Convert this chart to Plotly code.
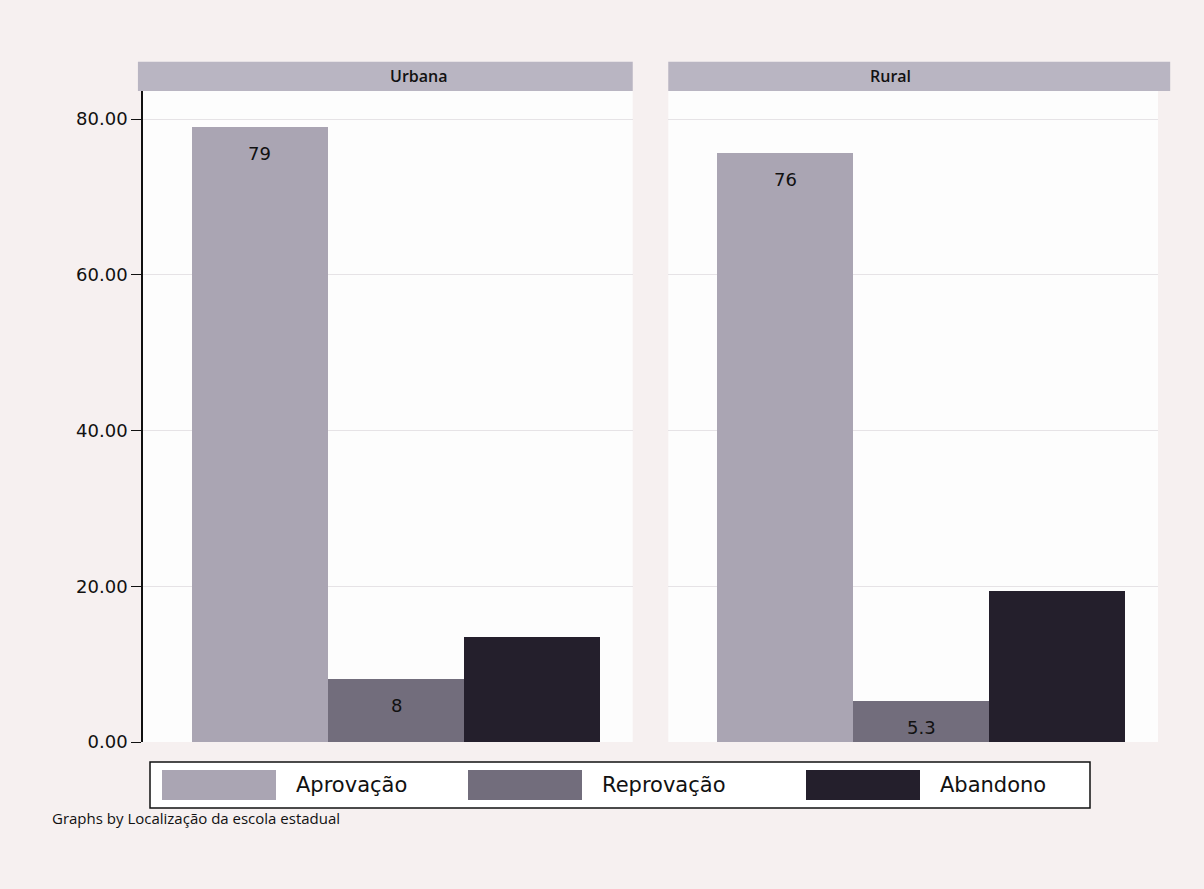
import plotly.graph_objects as go
from plotly.subplots import make_subplots

panels = ["Urbana", "Rural"]
series = ["Aprovação", "Reprovação", "Abandono"]
values = {
    "Urbana": [79.0, 8.1, 13.5],
    "Rural": [75.7, 5.3, 19.4],
}
labels = {
    "Urbana": ["79", "8", ""],
    "Rural": ["76", "5.3", ""],
}
colors = ["#aaa5b3", "#726d7c", "#241f2c"]
yticks = [0, 20, 40, 60, 80]

fig = make_subplots(rows=1, cols=2, shared_yaxes=True, horizontal_spacing=0.035)

for ci, p in enumerate(panels, start=1):
    for si, s in enumerate(series):
        fig.add_trace(go.Bar(x=[s], y=[values[p][si]], name=s,
                             marker=dict(color=colors[si], line=dict(width=0)),
                             showlegend=False, hoverinfo="y"), row=1, col=ci)
        if labels[p][si]:
            fig.add_annotation(x=s, y=values[p][si], text=labels[p][si], showarrow=False,
                               yshift=-27, font=dict(size=18, color="#111", family="DejaVu Sans"),
                               xref=f"x{'' if ci == 1 else ci}", yref=f"y{'' if ci == 1 else ci}")

fig.update_layout(barmode="overlay", bargap=0.0)
for ci in (1, 2):
    fig.update_xaxes(range=[-0.86, 2.74], showticklabels=False, showgrid=False,
                     zeroline=False, showline=False, ticks="", row=1, col=ci)
fig.update_yaxes(range=[0, 83.6], tickvals=yticks, tickformat=".2f",
                 gridcolor="#e6e3e6", gridwidth=1, zeroline=False, row=1, col=1,
                 showline=True, linecolor="#111", linewidth=1.5, ticks="outside",
                 ticklen=10, tickcolor="#111",
                 tickfont=dict(size=18, family="DejaVu Sans", color="#111"))
fig.update_yaxes(range=[0, 83.6], tickvals=yticks, gridcolor="#e6e3e6",
                 zeroline=False, showline=False, row=1, col=2)

# strips
d1 = fig.layout.xaxis.domain
d2 = fig.layout.xaxis2.domain
for (a, b), p in zip([d1, d2], panels):
    fig.add_shape(type="rect", xref="paper", yref="paper", x0=a - (0.005 if p == "Urbana" else 0),
                  x1=b + (0.0 if p == "Urbana" else 0.012),
                  y0=1.0, y1=1.045, fillcolor="#b9b5c2", line=dict(width=0), layer="below")
    fig.add_annotation(xref="paper", yref="paper", x=(a + b) / 2, y=1.0225, yanchor="middle",
                       text=p, showarrow=False,
                       font=dict(size=16, family="Open Sans", color="#111", weight=600))

# legend box (drawn as shapes in paper coordinates)
W, H = 1204 - 143 - 46, 889 - 91 - 147
def px(x):
    return (x - 143) / W
def py(y):
    return (742 - y) / H
fig.add_shape(type="rect", xref="paper", yref="paper", x0=px(150), x1=px(1090), y0=py(762), y1=py(808),
              fillcolor="white", line=dict(color="#111", width=1.5))
sw_x = [162, 468, 806]
for i, s in enumerate(series):
    fig.add_shape(type="rect", xref="paper", yref="paper", x0=px(sw_x[i]), x1=px(sw_x[i] + 114),
                  y0=py(770), y1=py(800), fillcolor=colors[i], line=dict(width=0))
    fig.add_annotation(xref="paper", yref="paper", x=px(sw_x[i] + 132), y=py(785), xanchor="left",
                       yanchor="middle", text=s, showarrow=False,
                       font=dict(size=21, family="DejaVu Sans", color="#111"))

fig.add_annotation(xref="paper", yref="paper", x=px(50), y=py(818), xanchor="left", yanchor="middle",
                   text="Graphs by Localização da escola estadual", showarrow=False,
                   font=dict(size=15, family="Open Sans", color="#111"))

fig.update_layout(width=1204, height=889, margin=dict(l=143, r=46, t=91, b=147),
                  paper_bgcolor="#f6f0f0", plot_bgcolor="#fdfdfd", showlegend=False)

fig.write_html("out.html", config={"displayModeBar": False})

# remove the default page margin so the figure sits at the window origin
with open("out.html", "r", encoding="utf-8") as f:
    html = f.read()
html = html.replace("<head>", "<head><style>html,body{margin:0;padding:0;overflow:hidden;}</style>", 1)
with open("out.html", "w", encoding="utf-8") as f:
    f.write(html)
